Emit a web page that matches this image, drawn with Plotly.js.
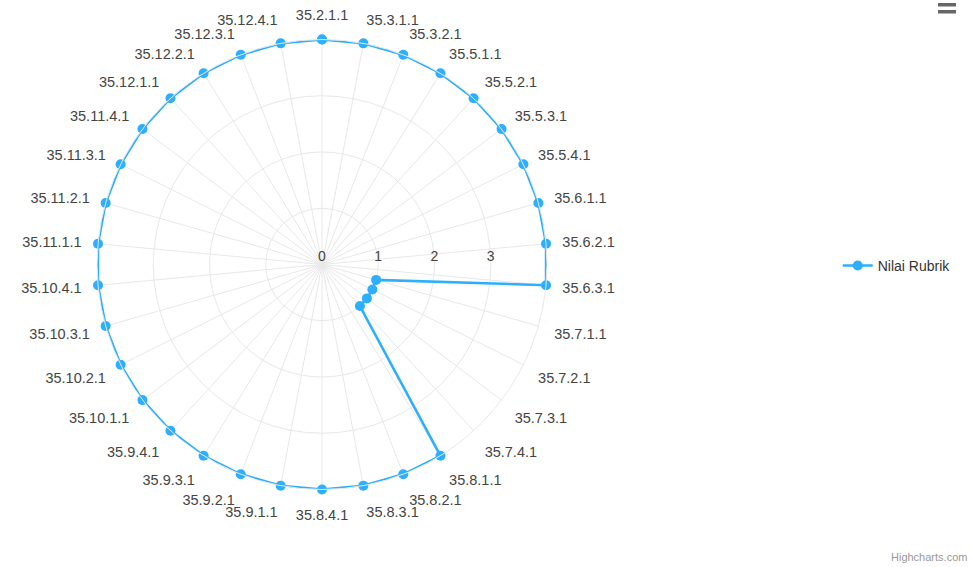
<!DOCTYPE html>
<html>
<head>
<meta charset="utf-8">
<script src="https://cdn.plot.ly/plotly-3.0.1.min.js"></script>
<style>html,body{margin:0;padding:0;background:#fff;}#chart{width:973px;height:567px;}</style>
</head>
<body>
<div id="chart"></div>
<script>
const categories = [
  "35.2.1.1","35.3.1.1","35.3.2.1","35.5.1.1","35.5.2.1","35.5.3.1","35.5.4.1",
  "35.6.1.1","35.6.2.1","35.6.3.1","35.7.1.1","35.7.2.1","35.7.3.1","35.7.4.1",
  "35.8.1.1","35.8.2.1","35.8.3.1","35.8.4.1","35.9.1.1","35.9.2.1","35.9.3.1",
  "35.9.4.1","35.10.1.1","35.10.2.1","35.10.3.1","35.10.4.1","35.11.1.1","35.11.2.1",
  "35.11.3.1","35.11.4.1","35.12.1.1","35.12.2.1","35.12.3.1","35.12.4.1"
];
const nilaiRubrik = [
  4,4,4,4,4,4,4,
  4,4,4,1,1,1,1,
  4,4,4,4,4,4,4,
  4,4,4,4,4,4,4,
  4,4,4,4,4,4
];
const seriesName = "Nilai Rubrik";
const radialTicks = [0,1,2,3];

const color = "#2caffe";
const trace = {
  type: "scatterpolar",
  mode: "lines+markers",
  name: seriesName,
  theta: categories.concat([categories[0]]),
  r: nilaiRubrik.concat([nilaiRubrik[0]]),
  line: {color: color, width: 2.5},
  marker: {color: color, size: 10},
  cliponaxis: false
};

const font = "Liberation Sans, Arial, Helvetica, sans-serif";
const layout = {
  width: 973, height: 567, autosize: false,
  margin: {l: 0, r: 0, t: 0, b: 0},
  paper_bgcolor: "#fff",
  font: {family: font},
  showlegend: true,
  legend: {
    x: 0.861, y: 0.531, xanchor: "left", yanchor: "middle",
    font: {size: 14, color: "#333"}, bgcolor: "rgba(0,0,0,0)"
  },
  polar: {
    domain: {x: [0.0997, 0.5622], y: [0.1367, 0.9303]},
    bgcolor: "#fff",
    angularaxis: {
      type: "category",
      categoryarray: categories,
      direction: "clockwise",
      rotation: 90,
      showgrid: true, gridcolor: "#e8e8e8", gridwidth: 1,
      showline: true, linecolor: "#e8e8e8", linewidth: 1,
      ticks: "outside", ticklen: 13, tickcolor: "rgba(0,0,0,0)",
      tickfont: {size: 14.5, color: "#444", family: font}
    },
    radialaxis: {
      range: [0, 4],
      tickvals: radialTicks,
      ticktext: radialTicks.map(String),
      showline: false,
      ticks: "",
      angle: 0,
      side: "counterclockwise",
      showgrid: true, gridcolor: "#e8e8e8", gridwidth: 1,
      tickfont: {size: 14, color: "#444", family: font}
    }
  },
  annotations: [{
    text: "Highcharts.com", xref: "paper", yref: "paper",
    x: 0.996, y: 0.0176, xanchor: "right", yanchor: "middle",
    showarrow: false, font: {size: 11, color: "#999", family: font}
  }],
  shapes: [
    {type: "rect", xref: "paper", yref: "paper", x0: 938/973, x1: 956/973, y0: 1 - 6.5/567, y1: 1 - 3/567, fillcolor: "#666", line: {width: 0}},
    {type: "rect", xref: "paper", yref: "paper", x0: 938/973, x1: 956/973, y0: 1 - 13.5/567, y1: 1 - 10/567, fillcolor: "#666", line: {width: 0}}
  ]
};

Plotly.newPlot("chart", [trace], layout, {displayModeBar: false, staticPlot: true});
</script>
</body>
</html>
